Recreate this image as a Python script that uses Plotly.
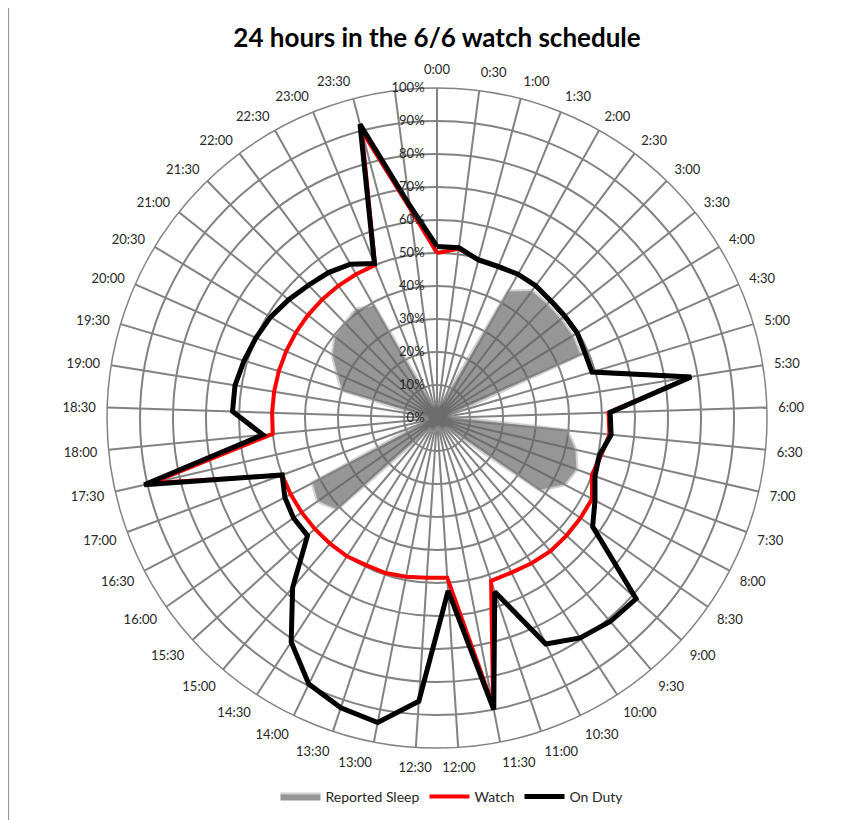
import plotly.graph_objects as go

# 49 categories (the last one has an empty label)
labels = [f"{h}:{m:02d}" for h in range(24) for m in (0, 30)] + [""]

on_duty = [52, 52, 49.5, 49.5, 50, 50, 49.5, 49.5, 49.7, 49, 49, 78, 52.5,
           53, 50.5, 51, 54, 57.5, 81.5, 81, 79.5, 76, 55.5, 90, 52.5,
           86, 94, 92.5, 89.5, 81, 67.5, 53, 53, 52, 50, 91, 53, 62,
           62, 61, 60, 59, 57.5, 56, 55, 53.5, 50.5, 92, 65]

watch = [50, 51.7, 49.5, 49.5, 50, 50, 49.5, 49.5, 49.7, 49, 49, 78, 52,
         52.5, 51, 50, 53, 53, 53, 53, 52.5, 52, 52, 89, 48.5,
         48.5, 49, 49.5, 49.5, 50, 50, 50, 50, 50, 50, 89, 50, 50,
         50, 50, 50, 50, 50, 50, 50, 50, 50, 90, 64]

sleep = [4, 4, 5, 6, 44, 48, 48, 48, 48, 47.5, 5, 4, 5,
         39.5, 43, 45, 43.5, 38, 5, 4, 4, 4, 4, 3, 3,
         3, 4, 4, 4, 4, 6, 41, 44, 42.5, 5, 4, 3, 3,
         5, 30, 33, 37, 39.5, 40, 41, 39, 5, 4, 4]

radial_ticks = list(range(0, 101, 10))
radial_text = [f"{v}%" for v in radial_ticks]

n = len(labels)
theta = [i * 360.0 / n for i in range(n)]
theta_closed = theta + [360.0]

FONT = "Lato"
W, H = 837, 812          # page has an 8px body margin
OFF = 8

def px_x(x):
    return (x - OFF) / W

def px_y(y):
    return 1 - (y - OFF) / H

fig = go.Figure()
fig.add_trace(go.Scatterpolar(
    r=sleep, theta=theta, mode="lines", fill="toself",
    fillcolor="rgba(98,98,98,0.67)",
    line=dict(color="rgba(150,150,150,0.45)", width=4),
    name="Reported Sleep"))
fig.add_trace(go.Scatterpolar(
    r=watch + watch[:1], theta=theta_closed, mode="lines",
    line=dict(color="#ff0000", width=4), name="Watch"))
fig.add_trace(go.Scatterpolar(
    r=on_duty + on_duty[:1], theta=theta_closed, mode="lines",
    line=dict(color="#000000", width=5), name="On Duty"))

grid = "#828282"
cx, cy, R = 437, 418, 330
pad = "\u00a0\u00a0\u00a0"
fig.update_layout(
    width=W, height=H,
    margin=dict(l=0, r=0, t=0, b=0),
    paper_bgcolor="white",
    font=dict(family=FONT, size=13, color="#262626"),
    title=dict(text="<b>24 hours in the 6/6 watch schedule</b>",
               x=px_x(437), xanchor="center", y=px_y(38), yanchor="middle",
               font=dict(family=FONT, size=26, color="#000000")),
    showlegend=True,
    legend=dict(orientation="h", x=px_x(452), xanchor="center",
                y=px_y(797), yanchor="middle",
                font=dict(family=FONT, size=14, color="#262626"),
                itemwidth=40),
    polar=dict(
        domain=dict(x=[px_x(cx - R), px_x(cx + R)], y=[px_y(cy + R), px_y(cy - R)]),
        bgcolor="white",
        angularaxis=dict(
            type="linear", thetaunit="degrees", rotation=90, direction="clockwise",
            tickmode="array", tickvals=theta, ticktext=labels,
            showgrid=True, gridcolor=grid, gridwidth=1.5,
            showline=True, linecolor=grid, linewidth=1.5,
            ticks="outside", ticklen=8, tickcolor="rgba(0,0,0,0)",
            tickfont=dict(family=FONT, size=13, color="#262626")),
        radialaxis=dict(
            range=[0, 100], tickmode="array", tickvals=radial_ticks,
            ticktext=[t + pad for t in radial_text],
            showgrid=True, gridcolor=grid, gridwidth=1.5,
            showline=False, ticks="", angle=90, side="counterclockwise",
            tickangle=90,
            tickfont=dict(family=FONT, size=13, color="#262626")),
    ),
    shapes=[dict(type="line", xref="paper", yref="paper",
                 x0=0.6 / W, x1=0.6 / W, y0=0, y1=1,
                 line=dict(color="#8c8c8c", width=1))],
)

fig.write_html("out.html")
